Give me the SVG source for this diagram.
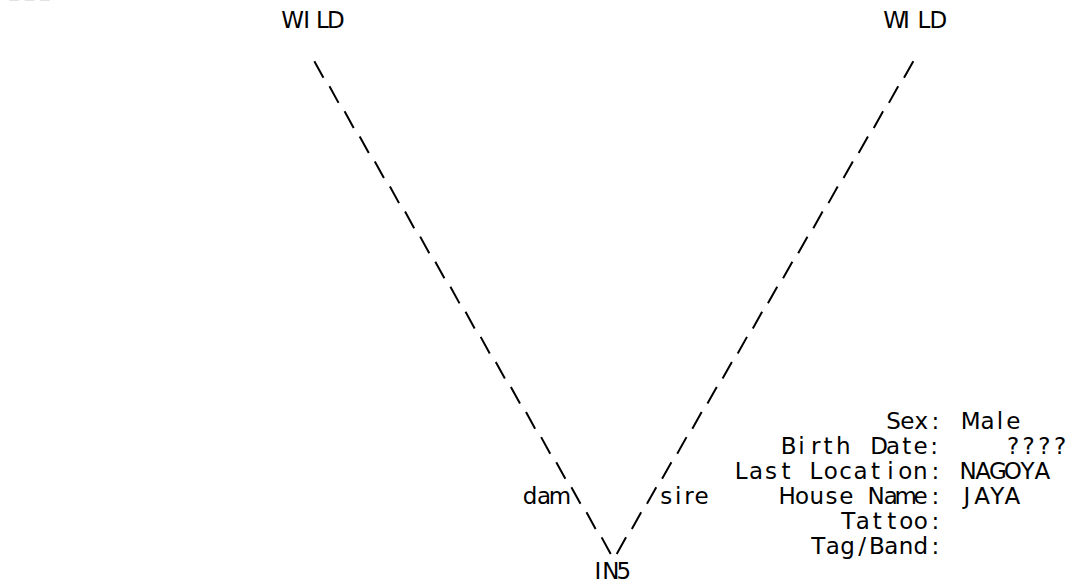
<svg xmlns="http://www.w3.org/2000/svg" width="1071" height="586" viewBox="0 0 1071 586">
<style>
.t{font-family:"DejaVu Sans",Verdana,sans-serif;font-size:23px;fill:#000;text-anchor:middle}
.c{fill:none;stroke:#000;stroke-width:2;stroke-linecap:butt}
.u{font-family:"Liberation Sans",Arial,sans-serif;font-size:17px;fill:#999}
</style>
<rect width="1071" height="586" fill="#fff"/>
<text class="u" x="9.5 24.8 40" y="-2.6">___</text>
<g id="connectors">
<path class="c" d="M314.34 61.22l9.1 16.6m6.02 8.46l9.1 16.6m6.02 8.46l9.1 16.6m6.02 8.46l9.1 16.6m6.02 8.46l9.1 16.6m6.02 8.46l9.1 16.6m6.02 8.46l9.1 16.6m6.02 8.46l9.1 16.6m6.02 8.46l9.1 16.6m6.02 8.46l9.1 16.6m6.02 8.46l9.1 16.6m6.02 8.46l9.1 16.6m6.02 8.46l9.1 16.6m6.02 8.46l9.1 16.6m6.02 8.46l9.1 16.6m6.02 8.46l9.1 16.6m6.02 8.46l9.1 16.6m6.02 8.46l9.1 16.6m6.02 8.46l9.1 16.6m6.02 8.46l9.1 16.6"/>
<path class="c" d="M904.02 77.82l9.3 -16.6m-24.42 41.66l9.3 -16.6m-24.42 41.66l9.3 -16.6m-24.42 41.66l9.3 -16.6m-24.42 41.66l9.3 -16.6m-24.42 41.66l9.3 -16.6m-24.42 41.66l9.3 -16.6m-24.42 41.66l9.3 -16.6m-24.42 41.66l9.3 -16.6m-24.42 41.66l9.3 -16.6m-24.42 41.66l9.3 -16.6m-24.42 41.66l9.3 -16.6m-24.42 41.66l9.3 -16.6m-24.42 41.66l9.3 -16.6m-24.42 41.66l9.3 -16.6m-24.42 41.66l9.3 -16.6m-24.42 41.66l9.3 -16.6m-24.42 41.66l9.3 -16.6m-24.42 41.66l9.3 -16.6m-24.42 41.66l9.3 -16.6"/>
<text class="t" x="530 544 560" y="504.1">dam</text>
<text class="t" x="666.3 678.3 689 701.7" y="504.1">sire</text>
</g>
<g id="dam-node">
<text class="t" x="292.5 306.6 322.5 335.8" y="28">WILD</text>
</g>
<g id="sire-node">
<text class="t" x="894.6 906.5 924 938.3" y="28">WILD</text>
</g>
<g id="subject-node">
<text class="t" x="598 610.8 623.8" y="579">IN5</text>
</g>
<g id="info">
<text class="t" x="893.5 907.4 921.4 935.3" y="429">Sex:</text>
<text class="t" x="970.8 987.5 1000 1013.3" y="429">Male</text>
<text class="t" x="788.7 801.5 815.8 828 843.3 861 879.2 893 906.7 920.5 934.2" y="454">Birth Date:</text>
<text class="t" x="1013 1028.7 1044.3 1060" y="454">????</text>
<text class="t" x="741.2 756.1 771.1 786 800.9 815.9 830.8 845.7 860.6 875.6 890.5 905.4 920.4 935.3" y="479.1">Last Location:</text>
<text class="t" x="968.2 983 997.8 1012.7 1027.5 1042.3" y="479.1">NAGOYA</text>
<text class="t" x="787.2 802 816.8 831.6 846.4 861.3 876.1 890.9 905.7 920.5 935.3" y="504.1">House Name:</text>
<text class="t" x="966.9 982 997.2 1012.3" y="504.1">JAYA</text>
<text class="t" x="848.2 862.7 877.2 891.8 906.3 920.8 935.3" y="529.2">Tattoo:</text>
<text class="t" x="818.2 832.8 847.5 862.1 876.8 891.4 906 920.7 935.3" y="554.3">Tag/Band:</text>
</g>
</svg>
